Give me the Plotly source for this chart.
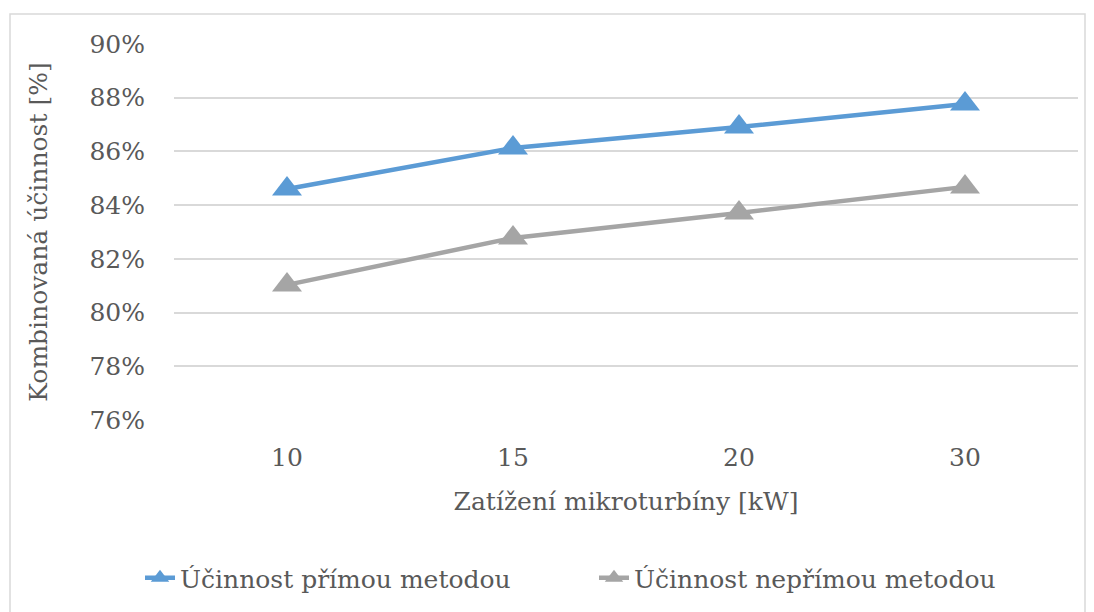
import plotly.graph_objects as go

categories = ["10", "15", "20", "30"]
prima = [0.846, 0.8613, 0.8691, 0.8777]
neprima = [0.8103, 0.8278, 0.8371, 0.8468]
series_names = ["Účinnost přímou metodou", "Účinnost nepřímou metodou"]
colors = ["#5B9BD5", "#A5A5A5"]
y_ticks = [0.76, 0.78, 0.80, 0.82, 0.84, 0.86, 0.88, 0.90]

W, H = 1094, 612
L, R, T, B = 174, 16, 44, 192
pw, ph = W - L - R, H - T - B

FONT = "DejaVu Serif"
TXT = "#595959"
FS = 25

def px_x(p):
    return (p - L) / pw

def px_y(p):
    return 1 - (p - T) / ph

fig = go.Figure()
legend_ids = ["legend", "legend2"]
for name, vals, col, lg in zip(series_names, [prima, neprima], colors, legend_ids):
    fig.add_trace(go.Scatter(
        x=categories, y=vals, name=name, mode="lines+markers",
        line=dict(color=col, width=4.5),
        marker=dict(symbol="triangle-up", size=26, color=col),
        legend=lg, showlegend=True,
    ))

legend_common = dict(
    orientation="h", xref="container", yref="container",
    yanchor="middle", y=1 - 578 / H, xanchor="left",
    font=dict(family=FONT, size=FS, color=TXT), bgcolor="rgba(0,0,0,0)",
)

fig.update_layout(
    width=W, height=H,
    showlegend=True,
    margin=dict(l=L, r=R, t=T, b=B),
    paper_bgcolor="white", plot_bgcolor="white",
    font=dict(family=FONT, size=FS, color=TXT),
    xaxis=dict(
        type="category", range=[-0.5, 3.5],
        showgrid=False, zeroline=False, showline=False,
        ticks="", ticklabelstandoff=20,
        tickfont=dict(family=FONT, size=FS, color=TXT),
        title=dict(text="Zatížení mikroturbíny [kW]", font=dict(family=FONT, size=FS, color=TXT), standoff=21),
    ),
    yaxis=dict(
        range=[0.76, 0.90], tickvals=y_ticks, tickformat=".0%",
        showgrid=True, gridcolor="#D9D9D9", gridwidth=1.5,
        zeroline=False, showline=False, ticks="", ticklabelstandoff=28,
        tickfont=dict(family=FONT, size=FS, color=TXT),
        title=dict(text="Kombinovaná účinnost [%]", font=dict(family=FONT, size=FS, color=TXT), standoff=34),
    ),
    legend=dict(x=140 / W, **legend_common),
    legend2=dict(x=594 / W, **legend_common),
    shapes=[dict(
        type="rect", xref="paper", yref="paper",
        x0=px_x(10), x1=px_x(1085), y0=px_y(640), y1=px_y(14),
        line=dict(color="#D9D9D9", width=1.5), fillcolor="rgba(0,0,0,0)", layer="below",
    )],
)

fig.write_html("out.html", config={"displayModeBar": False},
               post_script="document.body.style.margin='0';document.body.style.padding='0';")
